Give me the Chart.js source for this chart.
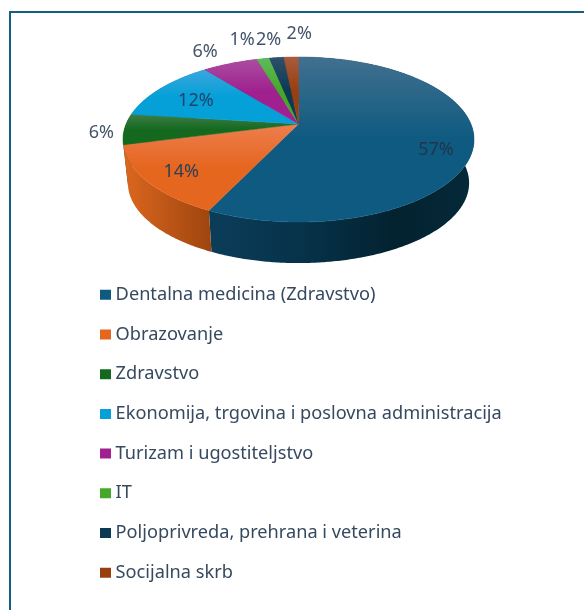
<!DOCTYPE html>
<html>
<head>
<meta charset="utf-8">
<script src="https://cdn.jsdelivr.net/npm/chart.js@4"></script>
<style>
html,body{margin:0;padding:0;background:#fff;overflow:hidden}
#wrap{position:relative;width:584px;height:610px}
#frame{position:absolute;left:9px;top:11px;right:0;bottom:0;border-left:2px solid #156082;border-top:2px solid #156082}
canvas{position:absolute;left:0;top:0;filter:blur(.35px)}
</style>
</head>
<body>
<div id="wrap"><div id="frame"></div><canvas id="c" width="584" height="610"></canvas></div>
<script>
const categories = ["Dentalna medicina (Zdravstvo)","Obrazovanje","Zdravstvo","Ekonomija, trgovina i poslovna administracija","Turizam i ugostiteljstvo","IT","Poljoprivreda, prehrana i veterina","Socijalna skrb"];
const shares = [57.1,13.9,6,12.3,6.1,1.4,1.6,1.6];
const baseColors = ["#0E5A80","#E5661F","#14691F","#05A0D8","#A0208F","#46A82B","#0B3A54","#9A3E10"];
const lightColors = ["#41708F","#EE7E4E","#3F7D48","#3BA6DE","#A94EA0","#5FB95C","#30506A","#A65C3E"];
const wallFrom = ["#0B3D59","#DC671F","#0F5018","#047AA6","#7A186E","#35801F","#072A3D","#752F0C"];
const wallTo = ["#05293A","#9F460F","#0F5018","#047AA6","#7A186E","#35801F","#072A3D","#752F0C"];
const labelNudge = [[-38,8],[34,-10],[-23,4],[35,13],[-25,-12],[-21,-19],[-8,-18],[8,-23]];
const labelColors = ["#21364C","#2F3F57","#44546A","#1F4468","#44546A","#44546A","#44546A","#44546A"];

const TEXT = "#36495F", FONT = '"Noto Sans"', FS = 18.2, LABEL_FS = 18;
const P = {cx:298.5, K:172.4, apex:124, a:-56.3, c:0.188, midY:139.5, lowY:183, lowX:.972, lowS:.97};
const proj = t => { // t: angle clockwise from 12 o'clock
  const u=Math.sin(t), v=Math.cos(t), w=1+P.c*v;
  return [P.cx+P.K*u/w, (P.a*v+P.apex)/w];
};
const low = p => [P.cx+(p[0]-P.cx)*P.lowX, P.lowY+(p[1]-P.midY)*P.lowS];
const samples = (a,b) => { const n=Math.max(2,Math.ceil((b-a)/0.01)); const r=[]; for(let i=0;i<=n;i++) r.push(a+(b-a)*i/n); return r; };

const pie3d = {
  id:'pie3d',
  afterLayout(chart){
    const lg=chart.legend, pad=lg.options.labels.padding;
    lg.left=104.5-pad; lg.right=584; lg.top=285.7-pad; lg.bottom=800;
    chart.chartArea={left:216,right:381,top:57,bottom:222,width:165,height:165};
  },
  beforeDatasetsDraw(chart){
    const ctx=chart.ctx, arcs=chart.getDatasetMeta(0).data;
    const range=arcs.map(el=>[el.startAngle+Math.PI/2, el.endAngle+Math.PI/2]);
    // walls, back to front
    range.map((r,i)=>i).sort((p,q)=>Math.cos((range[q][0]+range[q][1])/2)-Math.cos((range[p][0]+range[p][1])/2)).forEach(i=>{
      const [a,b]=range[i];
      const top=samples(a,b).map(proj), bot=top.map(low).reverse();
      const xs=top.map(p=>p[0]);
      const g=ctx.createLinearGradient(Math.min(...xs),0,Math.max(...xs),0);
      g.addColorStop(0,wallFrom[i]);
      if(i===0){g.addColorStop(.35,"#07324A");g.addColorStop(.7,"#03222F");}
      g.addColorStop(1,wallTo[i]);
      ctx.beginPath();
      top.concat(bot).forEach((p,k)=>k?ctx.lineTo(p[0],p[1]):ctx.moveTo(p[0],p[1]));
      ctx.closePath(); ctx.fillStyle=g; ctx.fill();
    });
    // faces
    range.forEach(([a,b],i)=>{
      const rim=samples(a,b).map(proj);
      const ys=rim.map(p=>p[1]).concat(P.apex);
      const y0=Math.min(...ys), y1=Math.max(...ys);
      const g=ctx.createLinearGradient(0,y0,0,y1);
      g.addColorStop(0,lightColors[i]);
      g.addColorStop(.5,baseColors[i]);
      g.addColorStop(1,baseColors[i]);
      ctx.beginPath(); ctx.moveTo(P.cx,P.apex);
      rim.forEach(p=>ctx.lineTo(p[0],p[1]));
      ctx.closePath(); ctx.fillStyle=g; ctx.fill();
      ctx.strokeStyle=g; ctx.lineWidth=.5; ctx.stroke();
    });
    // percent labels
    const total=shares.reduce((s,v)=>s+v,0);
    ctx.font=LABEL_FS+'px '+FONT; ctx.textAlign='center'; ctx.textBaseline='middle';
    range.forEach(([a,b],i)=>{
      const p=proj((a+b)/2);
      ctx.fillStyle=labelColors[i];
      ctx.fillText(Math.round(shares[i]/total*100)+'%', p[0]+labelNudge[i][0], p[1]+labelNudge[i][1]);
    });
    return false;
  }
};

new Chart(document.getElementById('c'),{
  type:'pie',
  data:{labels:categories,datasets:[{data:shares,backgroundColor:baseColors,borderWidth:0}]},
  plugins:[pie3d],
  options:{
    responsive:false,animation:false,
    plugins:{
      tooltip:{enabled:false},
      legend:{
        display:true,position:'left',align:'start',
        labels:{
          color:TEXT,font:{family:FONT,size:FS,lineHeight:'20px'},
          boxWidth:2,boxHeight:1,padding:39.7-FS,
          generateLabels:()=>categories.map((t,i)=>({text:t,fillStyle:baseColors[i],strokeStyle:baseColors[i],lineWidth:9,fontColor:TEXT,hidden:false,index:i}))
        }
      }
    }
  }
});
</script>
</body>
</html>
